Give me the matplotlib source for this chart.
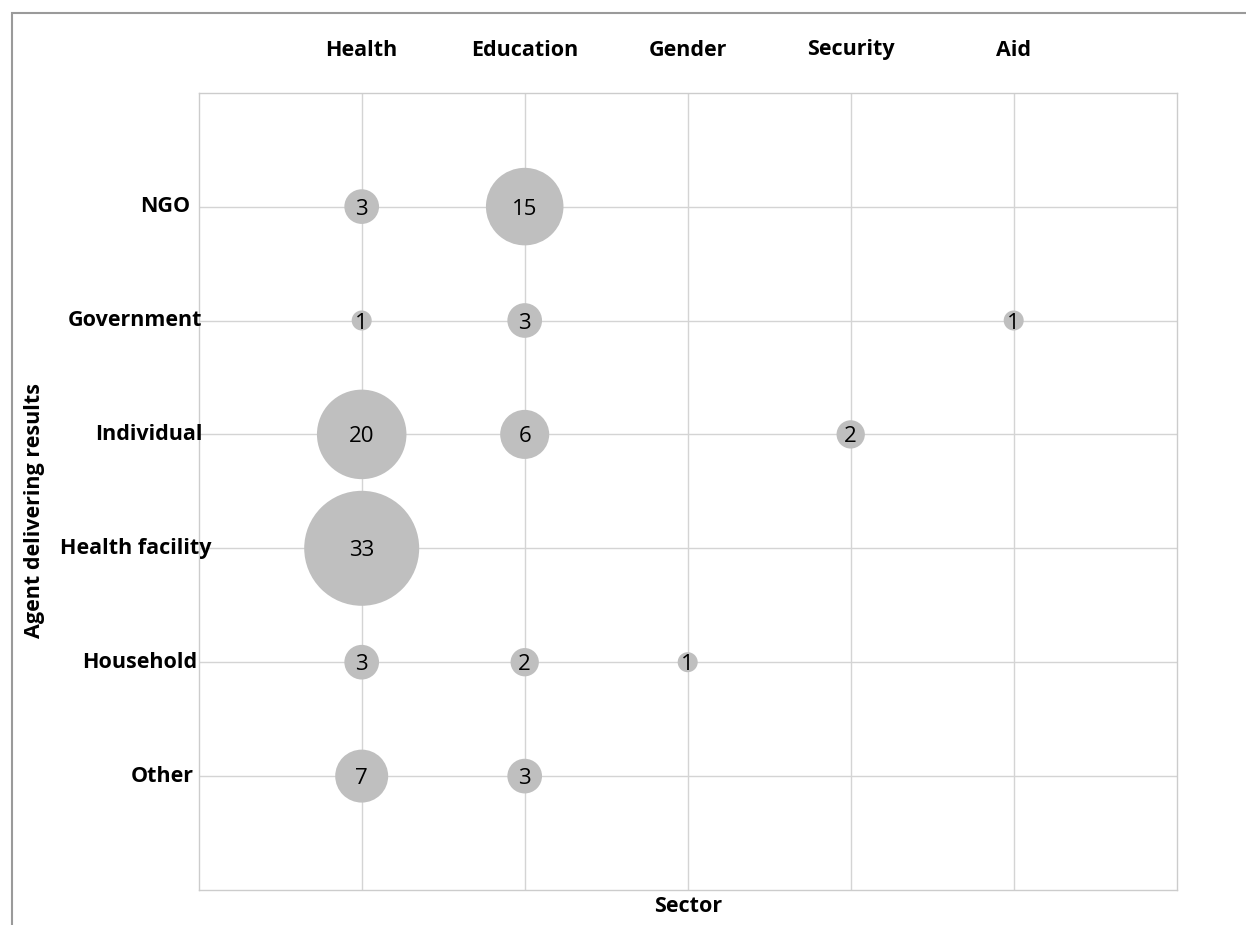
import matplotlib
matplotlib.use("Agg")
import matplotlib.pyplot as plt
import matplotlib.transforms as mtransforms
from matplotlib.patches import Rectangle
import numpy as np

plt.rcParams["font.family"] = ["Open Sans", "DejaVu Sans"]

# Sectors (columns) and delivering agents (rows)
sectors = ["Health", "Education", "Gender", "Security", "Aid"]
agents = ["NGO", "Government", "Individual", "Health facility", "Household", "Other"]

# Number of results per agent and sector (0 = none)
counts = [
    [3, 15, 0, 0, 0],   # NGO
    [1, 3, 0, 0, 1],    # Government
    [20, 6, 0, 2, 0],   # Individual
    [33, 0, 0, 0, 0],   # Health facility
    [3, 2, 1, 0, 0],    # Household
    [7, 3, 0, 0, 0],    # Other
]

x_title = "Sector"
y_title = "Agent delivering results"

W, H = 1246, 925
fig = plt.figure(figsize=(W / 100, H / 100), dpi=100)
ax = fig.add_axes([198.7 / W, 1 - 890 / H, (1176.7 - 198.7) / W, (890 - 92.7) / H])

grid_col = "#d4d4d4"
bubble_col = "#bfbfbf"

n_rows = len(agents)
xs, ys, vals = [], [], []
for i, row in enumerate(counts):
    for j, v in enumerate(row):
        if v > 0:
            xs.append(j + 1)
            ys.append(n_rows - i)
            vals.append(v)
xs = np.array(xs)
ys = np.array(ys)
vals = np.array(vals, dtype=float)

# bubble area proportional to the count
size_per_unit = 207.7
ax.scatter(xs, ys, s=vals * size_per_unit, color=bubble_col, edgecolors="none",
           zorder=3)
for x, y, v in zip(xs, ys, vals):
    ax.text(x, y, f"{int(v)}", ha="center", va="center_baseline", fontsize=16,
            color="black", zorder=4)

ax.set_xlim(0, len(sectors) + 1)
ax.set_ylim(0, n_rows + 1)
ax.set_xticks(range(1, len(sectors) + 1))
ax.set_yticks(range(1, n_rows + 1))
ax.grid(True, color=grid_col, linewidth=1.0, zorder=0)
ax.set_axisbelow(True)
ax.tick_params(length=0, labelleft=False, labelbottom=False)
for sp in ax.spines.values():
    sp.set_color("#cccccc")
    sp.set_linewidth(1.0)

label_size = 15.5

# column headers above the plot
top_tr = mtransforms.blended_transform_factory(ax.transData, fig.transFigure)
for j, name in enumerate(sectors):
    ax.text(j + 1, 1 - 50 / H, name, transform=top_tr, ha="center", va="center",
            fontsize=label_size, fontweight="bold")

# row labels at the left
row_label_right = [190, 202, 203, 212, 197, 194]
left_tr = mtransforms.blended_transform_factory(fig.transFigure, ax.transData)
for i, name in enumerate(agents):
    ax.text(row_label_right[i] / W, n_rows - i, name, transform=left_tr,
            ha="right", va="center", fontsize=label_size, fontweight="bold")

fig.text(688 / W, 1 - 906 / H, x_title, ha="center", va="center",
         fontsize=label_size, fontweight="bold")
fig.text(35 / W, 1 - 510 / H, y_title, ha="center", va="center",
         rotation=90, fontsize=label_size, fontweight="bold")

# outer frame
fig.patches.append(Rectangle((11.5 / W, -0.1), 2.0, 1 - 13 / H + 0.1,
                             transform=fig.transFigure, fill=False,
                             edgecolor="#9a9a9a", linewidth=1.5))

fig.savefig("out.png", dpi=100, facecolor="white")
